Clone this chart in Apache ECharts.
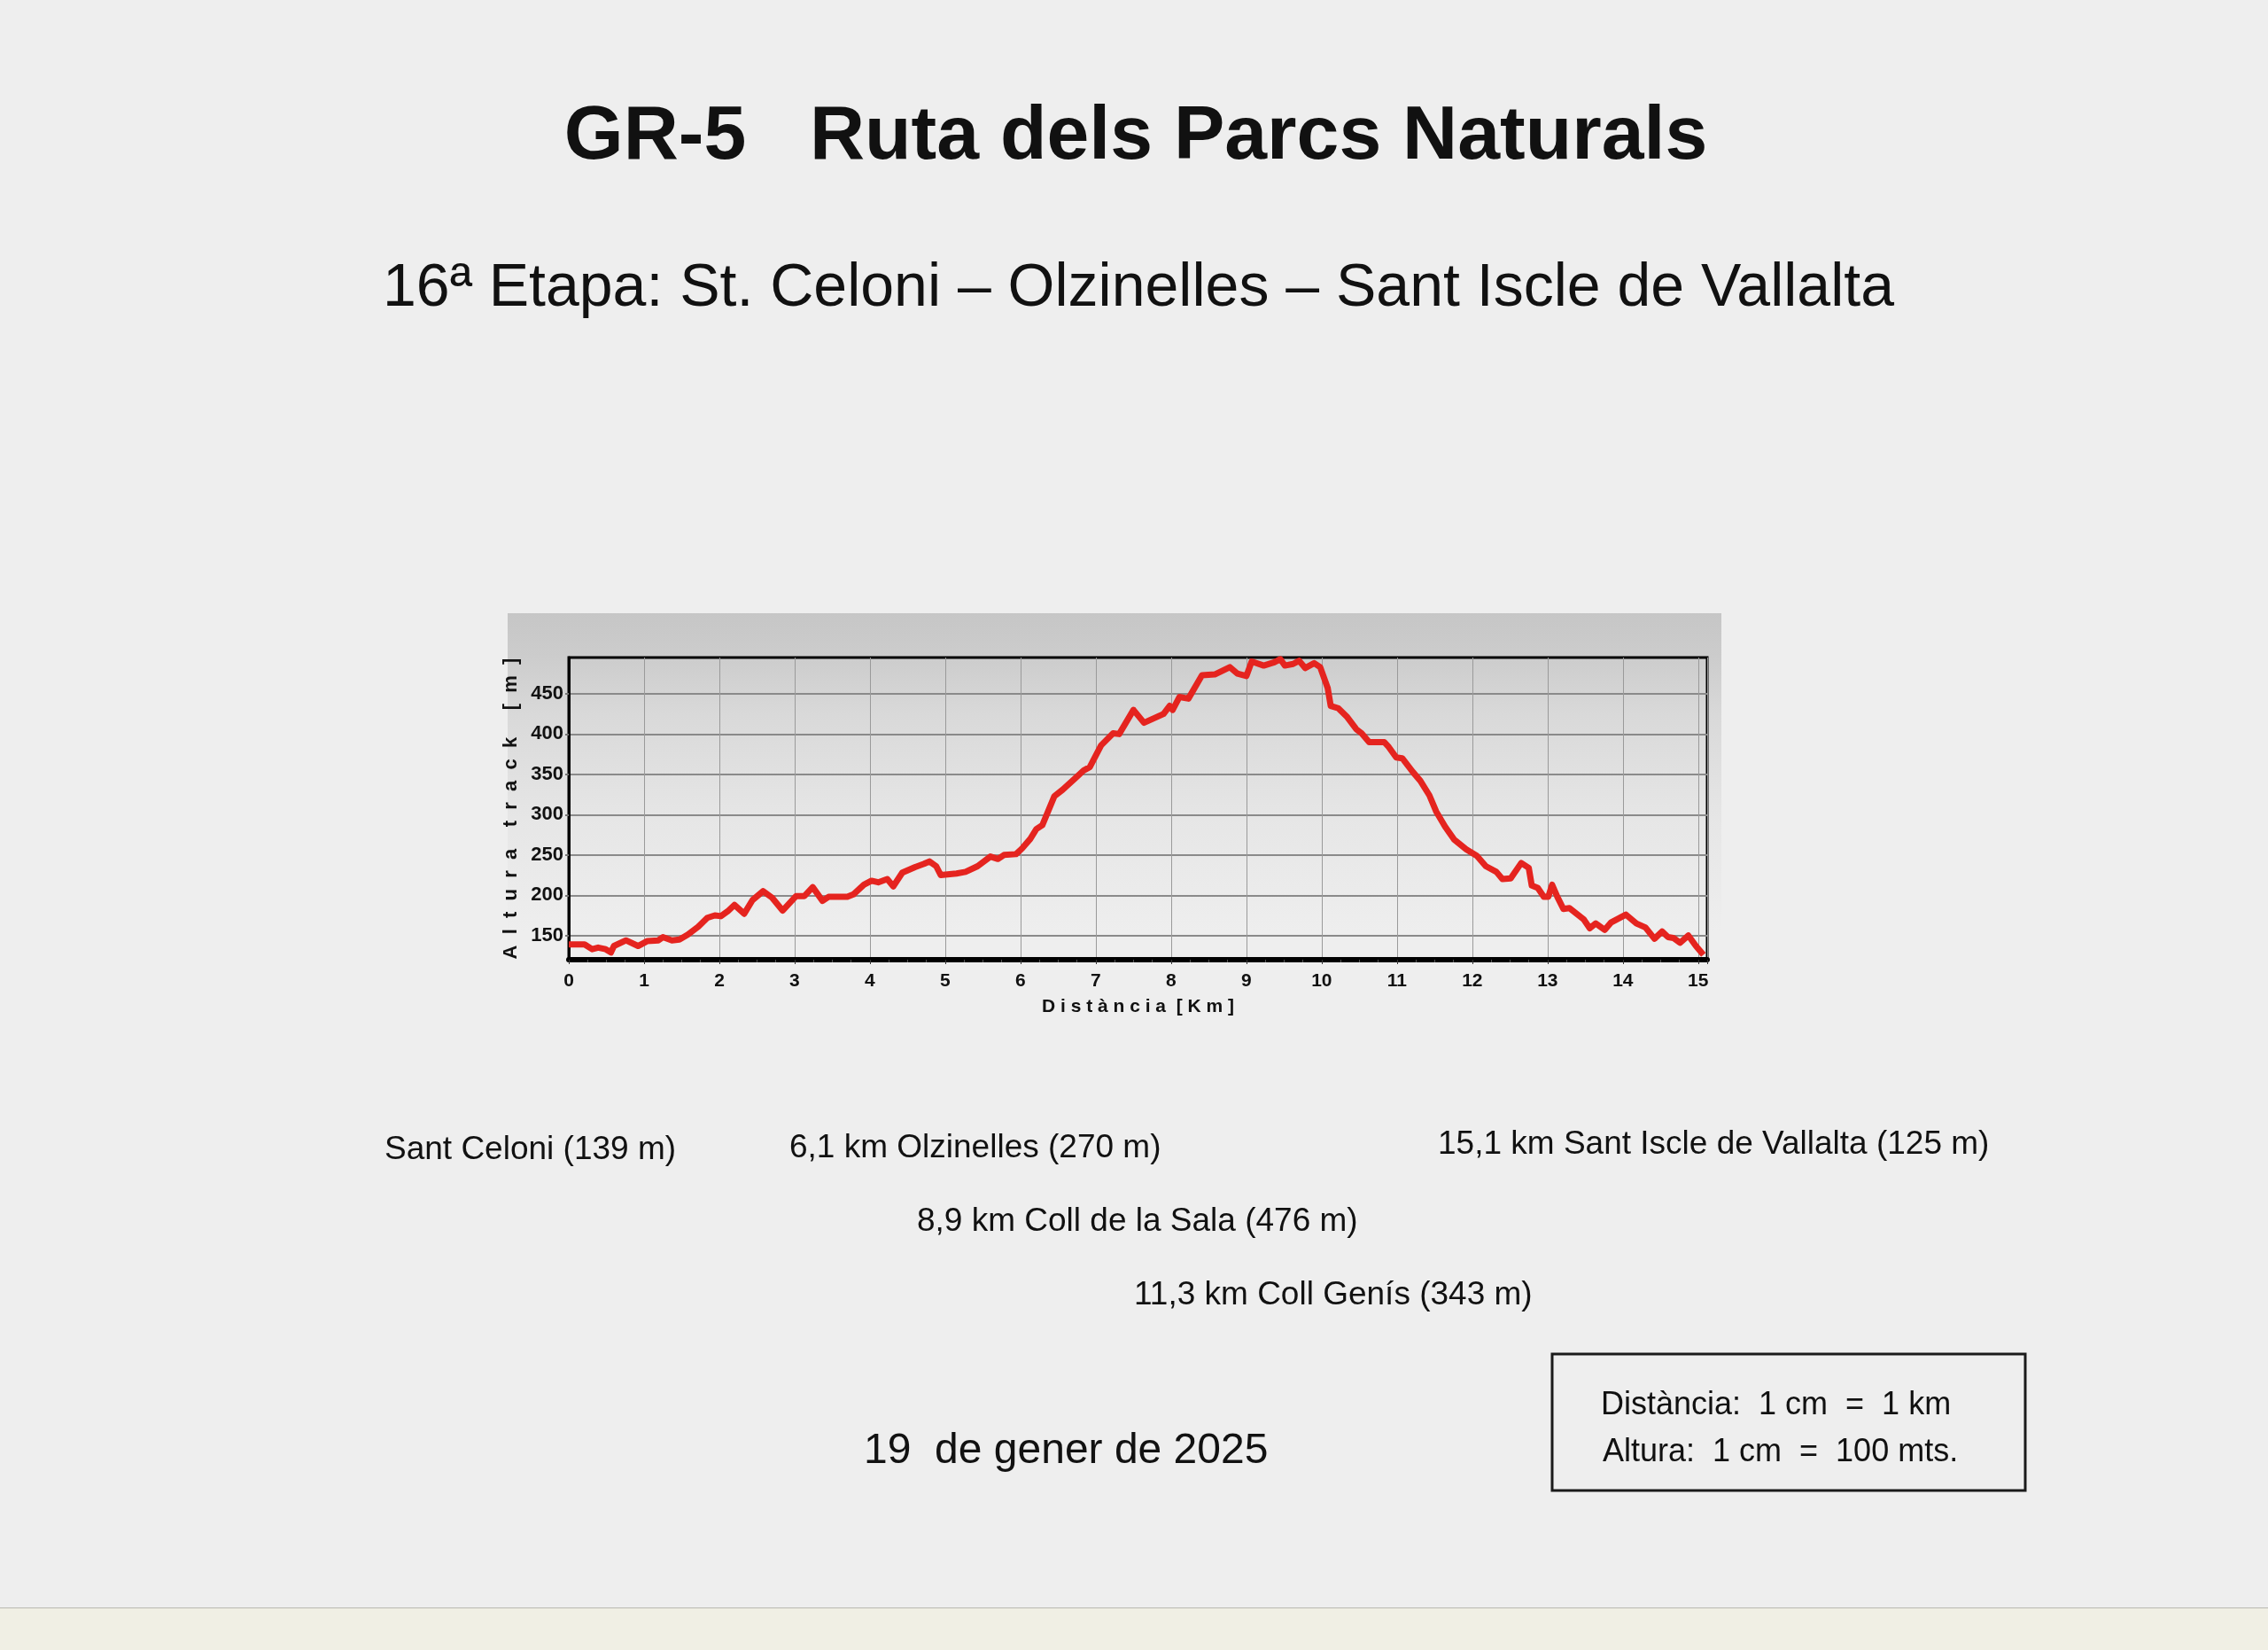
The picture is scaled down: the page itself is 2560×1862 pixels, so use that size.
<!DOCTYPE html>
<html>
<head>
<meta charset="utf-8">
<script src="https://cdn.jsdelivr.net/npm/echarts@6/dist/echarts.min.js"></script>
<style>
  html, body { margin:0; padding:0; width:2560px; height:1862px; overflow:hidden; background:#eeeeee; }
  #panel { position:absolute; left:573px; top:692px; width:1370px; height:480px;
    background:linear-gradient(to bottom, #c6c6c6 0%, #cccccc 10%, #d9d9d9 24%, #e6e6e6 48%, #eeeeee 75%, #eeeeee 100%); }
  #strip { position:absolute; left:0; top:1814px; width:2560px; height:48px; background:#f0efe4; border-top:1px solid #b9b9b2; }
  #chart { position:absolute; left:0; top:0; width:2560px; height:1862px; }
</style>
</head>
<body>
<div id="panel"></div>
<div id="strip"></div>
<div id="chart"></div>
<script>
// Distance along the track (km)
const distKm = [
  0, 0.1, 0.21, 0.31, 0.39, 0.49, 0.56, 0.60, 0.76, 0.92,
  1.04, 1.19, 1.25, 1.37, 1.47, 1.58, 1.72, 1.84, 1.94, 2.02,
  2.11, 2.20, 2.33, 2.44, 2.58, 2.70, 2.84, 3.02, 3.13, 3.24,
  3.37, 3.45, 3.70, 3.78, 3.92, 4.02, 4.11, 4.23, 4.31, 4.43,
  4.60, 4.72, 4.79, 4.88, 4.94, 5.15, 5.27, 5.43, 5.60, 5.70,
  5.78, 5.94, 6.02, 6.13, 6.21, 6.29, 6.45, 6.56, 6.76, 6.84,
  6.92, 7.07, 7.23, 7.31, 7.50, 7.64, 7.90, 7.98, 8.02, 8.11,
  8.23, 8.41, 8.58, 8.78, 8.88, 9.00, 9.07, 9.23, 9.37, 9.45,
  9.51, 9.62, 9.70, 9.78, 9.90, 9.98, 10.08, 10.12, 10.22, 10.34,
  10.46, 10.53, 10.63, 10.83, 10.89, 10.99, 11.07, 11.21, 11.31, 11.43,
  11.52, 11.64, 11.76, 11.92, 12.06, 12.18, 12.32, 12.40, 12.51, 12.65,
  12.75, 12.79, 12.87, 12.95, 13.01, 13.06, 13.13, 13.21, 13.29, 13.48,
  13.56, 13.64, 13.76, 13.84, 14.04, 14.18, 14.30, 14.42, 14.52, 14.60,
  14.67, 14.76, 14.87, 14.97, 15.07
];
// Altitude (m)
const altM = [
  139, 139, 139, 133, 135, 133, 129, 137, 144, 137,
  143, 144, 148, 144, 145, 151, 161, 172, 175, 174,
  180, 188, 177, 194, 205, 197, 181, 199, 199, 210,
  193, 198, 198, 201, 213, 218, 216, 220, 211, 228,
  235, 239, 242, 236, 225, 227, 229, 236, 248, 245,
  250, 251, 258, 270, 282, 287, 323, 331, 348, 355,
  359, 386, 401, 400, 430, 414, 425, 435, 430, 446,
  444, 473, 474, 483, 475, 472, 490, 485, 489, 493,
  485, 487, 491, 482, 488, 483, 457, 435, 432, 421,
  406, 401, 390, 390, 384, 371, 370, 353, 342, 324,
  304, 285, 269, 257, 249, 236, 229, 220, 221, 240,
  234, 212, 209, 198, 198, 213, 198, 183, 184, 170,
  159, 165, 157, 166, 176, 165, 160, 146, 155, 148,
  147, 141, 150, 137, 126
];
const yTicks = [150, 200, 250, 300, 350, 400, 450];

const titleText = 'GR-5   Ruta dels Parcs Naturals';
const subtitleText = '16ª Etapa: St. Celoni – Olzinelles – Sant Iscle de Vallalta';
const waypoints = [
  'Sant Celoni (139 m)',
  '6,1 km Olzinelles (270 m)',
  '15,1 km Sant Iscle de Vallalta (125 m)',
  '8,9 km Coll de la Sala (476 m)',
  '11,3 km Coll Genís (343 m)'
];
const dateText = '19  de gener de 2025';
const scaleLines = ['Distància:  1 cm  =  1 km', 'Altura:  1 cm  =  100 mts.'];

const FONT = '"Liberation Sans", Arial, Helvetica, sans-serif';
const chart = echarts.init(document.getElementById('chart'), null, { renderer: 'canvas' });

const txt = (text, x, y, size, weight, align) => ({
  type: 'text', x: x, y: y, silent: true,
  style: { text: text, fill: '#111', font: (weight || 'normal') + ' ' + size + 'px ' + FONT,
           textAlign: align || 'left', textVerticalAlign: 'middle' }
});

chart.setOption({
  backgroundColor: 'transparent',
  animation: false,
  textStyle: { fontFamily: FONT },
  grid: {
    left: 642, top: 742, width: 1285, height: 341,
    show: true, borderColor: '#000', borderWidth: 3, backgroundColor: 'transparent'
  },
  xAxis: {
    type: 'value', min: 0, max: 15.12, interval: 1,
    name: 'D i s t à n c i a  [ K m ]',
    nameLocation: 'middle', nameGap: 43,
    nameTextStyle: { fontSize: 21, fontWeight: 'bold', color: '#111' },
    axisLine: { show: true, onZero: false, lineStyle: { color: '#000', width: 6 } },
    axisTick: { show: true, length: 5, lineStyle: { color: '#333', width: 1 } },
    minorTick: { show: true, splitNumber: 4, length: 3, lineStyle: { color: '#555', width: 1 } },
    axisLabel: { fontSize: 21, fontWeight: 'bold', color: '#111', margin: 14,
      formatter: v => (Math.abs(v - Math.round(v)) < 1e-6 ? String(Math.round(v)) : '') },
    splitLine: { show: true, lineStyle: { color: '#9a9a9a', width: 1 } }
  },
  yAxis: {
    type: 'value', min: 120, max: 495,
    name: 'A  l  t  u  r  a    t  r  a  c  k     [  m  ]',
    nameLocation: 'middle', nameRotate: 90, nameGap: 50,
    nameTextStyle: { fontSize: 22, fontWeight: 'bold', color: '#111' },
    axisLine: { show: true, lineStyle: { color: '#000', width: 3 } },
    axisTick: { show: true, length: 4, customValues: yTicks, lineStyle: { color: '#777', width: 2 } },
    axisLabel: { fontSize: 22, fontWeight: 'bold', color: '#111', margin: 6, customValues: yTicks },
    splitLine: { show: true, lineStyle: { color: '#8a8a8a', width: 2 } }
  },
  series: [{
    type: 'line',
    data: distKm.map((d, i) => [d, altM[i]]),
    showSymbol: false, symbol: 'none',
    lineStyle: { color: '#e5241f', width: 7, join: 'round' },
    z: 5
  }],
  graphic: { elements: [
    txt(titleText, 1282, 155, 86, 'bold', 'center'),
    txt(subtitleText, 1285, 326, 68, 'normal', 'center'),
    txt(waypoints[0], 434, 1298, 37),
    txt(waypoints[1], 891, 1296, 37),
    txt(waypoints[2], 1623, 1292, 37),
    txt(waypoints[3], 1035, 1379, 37),
    txt(waypoints[4], 1280, 1462, 37),
    txt(dateText, 975, 1638, 48),
    { type: 'rect', silent: true, shape: { x: 1752, y: 1528, width: 534, height: 154 },
      style: { fill: 'none', stroke: '#1a1a1a', lineWidth: 3 } },
    txt(scaleLines[0], 1807, 1586, 36),
    txt(scaleLines[1], 1809, 1639, 36)
  ] }
});
</script>
</body>
</html>
